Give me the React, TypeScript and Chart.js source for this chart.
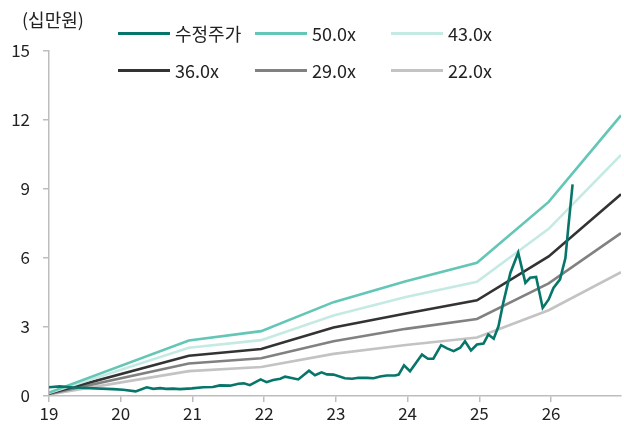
import React, { useEffect, useRef } from "react";
import { Chart, registerables } from "chart.js";

Chart.register(...registerables);

const FONT = '"Noto Sans CJK KR", "Noto Sans", sans-serif';

// x in months since Jan 2019
const yearTickMonths = [0, 12, 24, 36, 48, 60, 72, 84];
const yearLabels = ["19", "20", "21", "22", "23", "24", "25", "26"];
const xMax = 95.7;
const yMax = 15;
const yStep = 3;
const unitLabel = "(십만원)";

const stockMonths = [
  0, 1.8, 4.1, 10.7, 12.4, 14.5, 16.35, 17.45, 18.6, 19.6, 20.8, 21.9, 23.9, 25.8,
  27.4, 28.6, 30.3, 31.7, 32.6, 33.6, 35.4, 36.4, 37.5, 38.7, 39.5, 40.6, 41.7,
  43.5, 44.5, 45.6, 46.5, 47.6, 49.5, 50.7, 51.8, 53.2, 54.3, 55.4, 56.5, 57.9,
  58.5, 59.4, 60.4, 62.4, 63.4, 64.3, 65.6, 66.6, 67.7, 68.8, 69.6, 70.6, 71.6,
  72.7, 73.5, 74.4, 75.2, 76.0, 77.2, 78.5, 79.7, 80.5, 81.5, 82.6, 83.6, 84.4,
  85.5, 86.4, 86.9, 87.6,
];
const stockPrice = [
  0.38, 0.42, 0.37, 0.3, 0.27, 0.2, 0.38, 0.31, 0.34, 0.31, 0.32, 0.3, 0.33, 0.38,
  0.39, 0.46, 0.45, 0.53, 0.55, 0.47, 0.72, 0.6, 0.7, 0.75, 0.84, 0.78, 0.72,
  1.1, 0.9, 1.03, 0.94, 0.93, 0.77, 0.75, 0.79, 0.79, 0.77, 0.85, 0.89, 0.89,
  0.93, 1.33, 1.08, 1.8, 1.62, 1.62, 2.21, 2.07, 1.95, 2.1, 2.38, 1.98, 2.24,
  2.28, 2.67, 2.49, 3.03, 4.05, 5.36, 6.23, 4.92, 5.14, 5.18, 3.83, 4.2, 4.7,
  5.07, 6.0, 7.38, 9.2,
];

const bandMonths = [0, 23.4, 35.5, 47.6, 59.7, 71.6, 83.6, 95.7];
const band50 = [0.15, 2.41, 2.82, 4.08, 4.99, 5.79, 8.44, 12.2];
const band43 = [0.13, 2.1, 2.43, 3.5, 4.3, 4.97, 7.27, 10.48];
const band36 = [0.11, 1.75, 2.04, 2.98, 3.59, 4.16, 6.07, 8.77];
const band29 = [0.09, 1.41, 1.64, 2.38, 2.92, 3.35, 4.9, 7.08];
const band22 = [0.07, 1.08, 1.26, 1.83, 2.22, 2.54, 3.73, 5.38];

const seriesNames = ["수정주가", "50.0x", "43.0x", "36.0x", "29.0x", "22.0x"];
const seriesColors = ["#06756a", "#63c6b6", "#c4eae3", "#333333", "#818181", "#c3c3c3"];

const toPoints = (xs: number[], ys: number[]) => xs.map((x, i) => ({ x, y: ys[i] }));

export default function App() {
  const ref = useRef<HTMLCanvasElement | null>(null);

  useEffect(() => {
    document.body.style.margin = "0";
    document.body.style.overflow = "hidden";
    const canvas = ref.current;
    if (!canvas) return;
    const bandSeries = [band50, band43, band36, band29, band22];
    const datasets = [
      {
        label: seriesNames[0],
        data: toPoints(stockMonths, stockPrice),
        borderColor: seriesColors[0],
        borderWidth: 2.6,
        pointRadius: 0,
        tension: 0,
      },
      ...bandSeries.map((vals, i) => ({
        label: seriesNames[i + 1],
        data: toPoints(bandMonths, vals),
        borderColor: seriesColors[i + 1],
        borderWidth: 2.6,
        pointRadius: 0,
        tension: 0,
      })),
    ];
    const chart = new Chart(canvas, {
      type: "line",
      data: { datasets },
      options: {
        animation: false,
        responsive: false,
        devicePixelRatio: 1,
        layout: { padding: { top: 51, right: 3, left: 0, bottom: 0 } },
        plugins: { legend: { display: false }, tooltip: { enabled: false } },
        scales: {
          x: {
            type: "linear",
            min: 0,
            max: xMax,
            afterBuildTicks: (scale: any) => {
              scale.ticks = yearTickMonths.map((v) => ({ value: v }));
            },
            afterFit: (scale: any) => {
              scale.height = 28;
            },
            ticks: {
              autoSkip: false,
              maxRotation: 0,
              padding: 1,
              color: "#222",
              font: { family: FONT, size: 17 },
              callback: (v: any) => {
                const idx = yearTickMonths.indexOf(Number(v));
                return idx >= 0 ? yearLabels[idx] : "";
              },
            },
            grid: { drawOnChartArea: false, drawTicks: true, tickLength: 6, color: "#bdbdbd", lineWidth: 1.5 },
            border: { display: true, color: "#bdbdbd", width: 1.5 },
          },
          y: {
            min: 0,
            max: yMax,
            afterFit: (scale: any) => {
              scale.width = 49;
            },
            ticks: {
              stepSize: yStep,
              padding: 13,
              color: "#222",
              font: { family: FONT, size: 17 },
            },
            grid: { drawOnChartArea: false, drawTicks: true, tickLength: 6, color: "#bdbdbd", lineWidth: 1.5 },
            border: { display: true, color: "#bdbdbd", width: 1.5 },
          },
        },
      },
    });
    return () => chart.destroy();
  }, []);

  const legendPos = [
    { left: 118, top: 33 },
    { left: 255, top: 33 },
    { left: 391, top: 33 },
    { left: 118, top: 70 },
    { left: 255, top: 70 },
    { left: 391, top: 70 },
  ];

  return (
    <div style={{ position: "relative", width: 624, height: 424, fontFamily: FONT }}>
      <canvas ref={ref} width={624} height={424} style={{ display: "block", width: 624, height: 424 }} />
      <div
        style={{
          position: "absolute",
          left: 22,
          top: 19,
          transform: "translateY(-50%)",
          fontSize: 18,
          color: "#222",
          lineHeight: 1,
          whiteSpace: "nowrap",
        }}
      >
        {unitLabel}
      </div>
      {seriesNames.map((name, i) => (
        <div
          key={name}
          style={{
            position: "absolute",
            left: legendPos[i].left,
            top: legendPos[i].top,
            transform: "translateY(-50%)",
            display: "flex",
            alignItems: "center",
            whiteSpace: "nowrap",
          }}
        >
          <span style={{ display: "inline-block", width: 52, height: 3, background: seriesColors[i], marginRight: 5 }} />
          <span style={{ fontSize: 18, color: "#222", lineHeight: 1 }}>{name}</span>
        </div>
      ))}
    </div>
  );
}
